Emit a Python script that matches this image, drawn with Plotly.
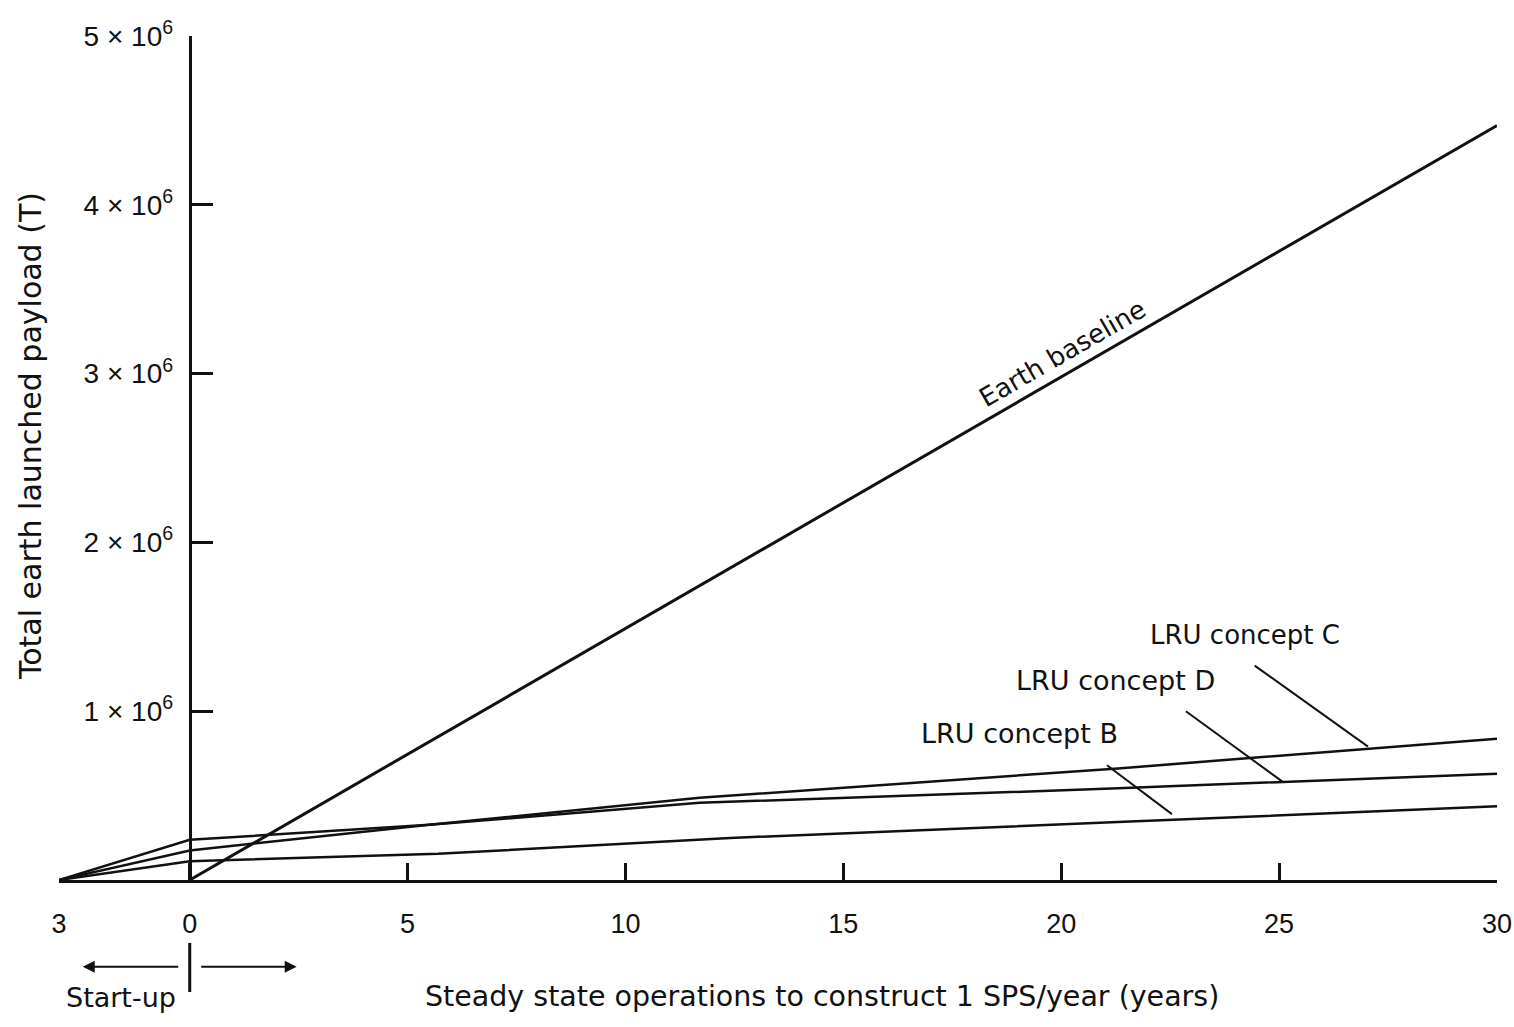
import plotly.graph_objects as go

# ---- data ----
years_earth = [0, 30]
earth_baseline = [0, 4.47e6]

years_c = [-3, 0, 5.5, 11.7, 21.3, 30]
lru_c = [0, 0.175e6, 0.327e6, 0.487e6, 0.661e6, 0.837e6]

years_d = [-3, 0, 5.5, 11.7, 21.3, 30]
lru_d = [0, 0.238e6, 0.327e6, 0.457e6, 0.543e6, 0.630e6]

years_b = [-3, 0, 5.7, 12.4, 21.3, 30]
lru_b = [0, 0.111e6, 0.155e6, 0.249e6, 0.343e6, 0.437e6]

x_tickvals = [-3, 0, 5, 10, 15, 20, 25, 30]
x_ticktext = ["3", "0", "5", "10", "15", "20", "25", "30"]
y_tickvals = [1e6, 2e6, 3e6, 4e6, 5e6]
y_ticktext = ["%d × 10<sup>6</sup>" % v for v in [1, 2, 3, 4, 5]]

TXT = "DejaVu Sans"
NUM = "Liberation Sans"
BLACK = "#111111"

fig = go.Figure()
series = [
    (years_earth, earth_baseline, "Earth baseline", 3),
    (years_c, lru_c, "LRU concept C", 2.5),
    (years_d, lru_d, "LRU concept D", 2.5),
    (years_b, lru_b, "LRU concept B", 2.5),
]
for xs, ys, name, w in series:
    fig.add_trace(go.Scatter(x=xs, y=ys, mode="lines", name=name,
                             line=dict(color=BLACK, width=w), showlegend=False,
                             hoverinfo="skip"))

annotations = [
    dict(x=20.04, y=3.12e6, text="Earth baseline", textangle=-30,
         font=dict(family=TXT, size=26, color=BLACK)),
    dict(x=24.21, y=1.45e6, text="LRU concept C", font=dict(family=TXT, size=26, color=BLACK)),
    dict(x=21.25, y=1.18e6, text="LRU concept D", font=dict(family=TXT, size=27, color=BLACK)),
    dict(x=19.05, y=0.87e6, text="LRU concept B", font=dict(family=TXT, size=27, color=BLACK)),
    dict(x=14.5, y=-0.1386, yref="paper", text="Steady state operations to construct 1 SPS/year (years)",
         font=dict(family=TXT, size=28.5, color=BLACK)),
    dict(x=-1.583, y=-0.1398, yref="paper", text="Start-up",
         font=dict(family=TXT, size=27, color=BLACK)),
    dict(x=-0.0202, xref="paper", y=0.526, yref="paper", text="Total earth launched payload (T)",
         textangle=-90, font=dict(family=TXT, size=30, color=BLACK)),
]
for a in annotations:
    a.setdefault("xref", "x")
    a.setdefault("yref", "y")
    a["showarrow"] = False
    a["xanchor"] = "center"
    a["yanchor"] = "middle"
    fig.add_annotation(**a)

# start-up arrows
fig.add_annotation(x=-2.455, y=-0.1027, xref="x", yref="paper", ax=97, ay=0,
                   axref="pixel", ayref="pixel", showarrow=True, arrowhead=2,
                   arrowsize=1.2, arrowwidth=2, arrowcolor=BLACK, text="")
fig.add_annotation(x=2.455, y=-0.1027, xref="x", yref="paper", ax=-97, ay=0,
                   axref="pixel", ayref="pixel", showarrow=True, arrowhead=2,
                   arrowsize=1.2, arrowwidth=2, arrowcolor=BLACK, text="")
fig.add_shape(type="line", xref="x", yref="paper", x0=0, x1=0, y0=-0.0746, y1=-0.1327,
              line=dict(color=BLACK, width=3))

# leader lines for LRU labels
leaders = [
    (24.44, 1.27e6, 27.04, 0.79e6),
    (22.86, 1.00e6, 25.09, 0.58e6),
    (21.05, 0.68e6, 22.54, 0.39e6),
]
for x0, y0, x1, y1 in leaders:
    fig.add_shape(type="line", xref="x", yref="y", x0=x0, y0=y0, x1=x1, y1=y1,
                  line=dict(color=BLACK, width=2))

fig.update_layout(
    width=1514, height=1027,
    margin=dict(l=59, r=17, t=36, b=147),
    paper_bgcolor="white", plot_bgcolor="white",
    xaxis=dict(range=[-3, 30], tickvals=x_tickvals, ticktext=x_ticktext,
               ticks="inside", ticklen=17, tickwidth=3, tickcolor=BLACK,
               showline=True, linewidth=3, linecolor=BLACK, automargin=False,
               showgrid=False, zeroline=False, ticklabelstandoff=18,
               ticklabeloverflow="allow",
               tickfont=dict(family=NUM, size=27, color=BLACK)),
    yaxis=dict(range=[0, 5e6], tickvals=y_tickvals, ticktext=y_ticktext,
               anchor="free", position=3 / 33, automargin=False,
               ticks="inside", ticklen=21, tickwidth=3, tickcolor=BLACK,
               showline=True, linewidth=3, linecolor=BLACK,
               showgrid=False, zeroline=False, ticklabelstandoff=10,
               tickfont=dict(family=NUM, size=28, color=BLACK)),
)

# remove the default 8px page margin so the figure fills the window exactly
fig.write_html("out.html", config={"displayModeBar": False},
               post_script="document.body.style.margin='0';document.body.style.overflow='hidden';")
